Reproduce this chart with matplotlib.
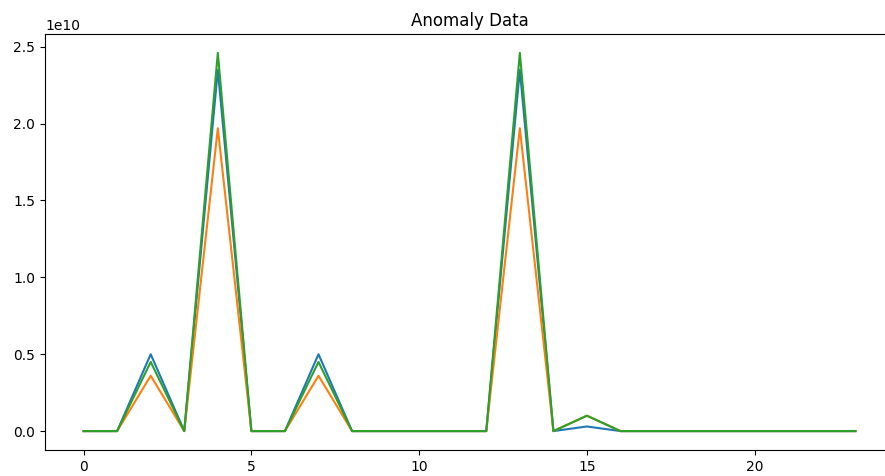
import matplotlib
matplotlib.use("Agg")
import matplotlib.pyplot as plt

# --- Data ---
hours = list(range(24))
series_a = [0, 0, 0.50e10, 0, 2.35e10, 0, 0, 0.50e10, 0, 0, 0, 0, 0, 2.35e10, 0, 0.03e10,
            0, 0, 0, 0, 0, 0, 0, 0]
series_b = [0, 0, 0.36e10, 0, 1.97e10, 0, 0, 0.36e10, 0, 0, 0, 0, 0, 1.97e10, 0, 0.10e10,
            0, 0, 0, 0, 0, 0, 0, 0]
series_c = [0, 0, 0.45e10, 0, 2.46e10, 0, 0, 0.45e10, 0, 0, 0, 0, 0, 2.46e10, 0, 0.10e10,
            0, 0, 0, 0, 0, 0, 0, 0]

# --- Plot Setup ---
fig = plt.figure(figsize=(8.85, 4.76), dpi=100)
# axes run a bit past the right edge, as in the cropped original
ax = fig.add_axes([45 / 885, 1 - 450 / 476, 849 / 885, 416 / 476])
ax.plot(hours, series_a)
ax.plot(hours, series_b)
ax.plot(hours, series_c)
ax.set_title("Anomaly Data")

plt.savefig("out.png", dpi=100)
